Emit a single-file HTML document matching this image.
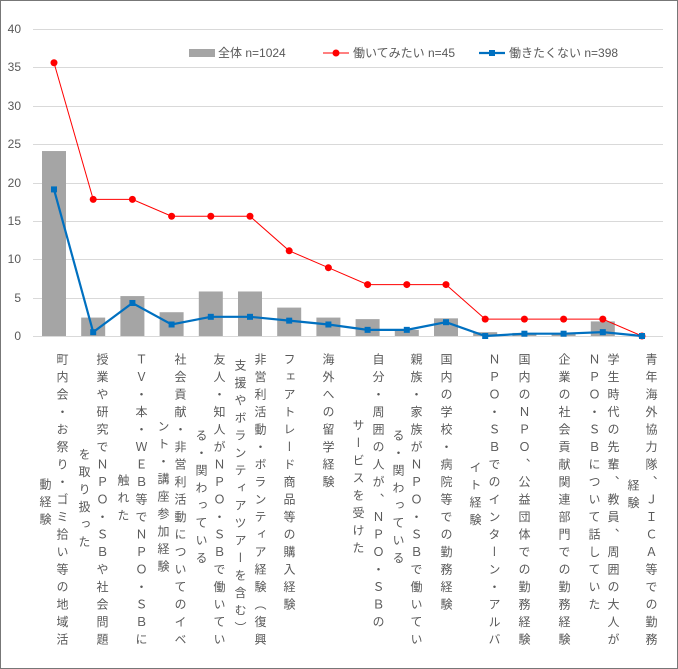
<!DOCTYPE html>
<html><head><meta charset="utf-8"><style>
body{margin:0;background:#fff}
#c{position:relative;width:676px;height:667px;border:1px solid #777;overflow:hidden;font-family:"Liberation Sans","Noto Sans CJK JP",sans-serif;color:#595959}
.v{position:absolute;writing-mode:vertical-rl;font-size:12px;letter-spacing:5.5px;width:16px;line-height:16px;white-space:nowrap;color:#595959;font-family:"Noto Sans CJK JP",sans-serif}
svg{position:absolute;left:0;top:0}
</style></head><body><div id="c">
<svg width="678" height="669" font-family="Liberation Sans, Noto Sans CJK JP, sans-serif" font-size="12" fill="#595959">
<g stroke="#d9d9d9" stroke-width="1">
<line x1="32" y1="28.5" x2="662" y2="28.5"/><line x1="32" y1="66.5" x2="662" y2="66.5"/><line x1="32" y1="105.5" x2="662" y2="105.5"/><line x1="32" y1="143.5" x2="662" y2="143.5"/><line x1="32" y1="182.5" x2="662" y2="182.5"/><line x1="32" y1="220.5" x2="662" y2="220.5"/><line x1="32" y1="258.5" x2="662" y2="258.5"/><line x1="32" y1="297.5" x2="662" y2="297.5"/><line x1="32" y1="335.5" x2="662" y2="335.5"/>
</g>
<g text-anchor="end"><text x="20" y="32">40</text><text x="20" y="70">35</text><text x="20" y="109">30</text><text x="20" y="147">25</text><text x="20" y="186">20</text><text x="20" y="224">15</text><text x="20" y="262">10</text><text x="20" y="301">5</text><text x="20" y="339">0</text></g>
<g fill="#a5a5a5" id="bars"></g>
<polyline id="rl" fill="none" stroke="#ff0000" stroke-width="1"/>
<g id="rd" fill="#ff0000"></g>
<polyline id="bl" fill="none" stroke="#0070c0" stroke-width="2.2"/>
<g id="bd" fill="#0070c0"></g>
<rect x="188" y="48" width="26" height="8" fill="#a5a5a5"/><text x="217" y="56">全体 n=1024</text>
<line x1="322" y1="52" x2="348" y2="52" stroke="#f00"/><circle cx="335" cy="52" r="3.5" fill="#f00"/><text x="352" y="56">働いてみたい n=45</text>
<line x1="478" y1="52" x2="504" y2="52" stroke="#0070c0" stroke-width="2.2"/><rect x="488" y="49" width="6" height="6" fill="#0070c0"/><text x="508" y="56">働きたくない n=398</text>
</svg>
<div class="v" style="left:53px;top:352px">町内会・お祭り・ゴミ拾い等の地域活</div>
<div class="v" style="left:36px;top:477px">動経験</div>
<div class="v" style="left:93px;top:352px">授業や研究でＮＰＯ・ＳＢや社会問題</div>
<div class="v" style="left:75px;top:447px">を取り扱った</div>
<div class="v" style="left:132px;top:352px">ＴＶ・本・ＷＥＢ等でＮＰＯ・ＳＢに</div>
<div class="v" style="left:114px;top:473px">触れた</div>
<div class="v" style="left:171px;top:352px">社会貢献・非営利活動についてのイベ</div>
<div class="v" style="left:154px;top:419px">ント・講座参加経験</div>
<div class="v" style="left:210px;top:352px">友人・知人がＮＰＯ・ＳＢで働いてい</div>
<div class="v" style="left:192px;top:428px">る・関わっている</div>
<div class="v" style="left:251px;top:352px">非営利活動・ボランティア経験（復興</div>
<div class="v" style="left:231px;top:358px">支援やボランティアツアーを含む）</div>
<div class="v" style="left:280px;top:352px">フェアトレード商品等の購入経験</div>
<div class="v" style="left:319px;top:352px">海外への留学経験</div>
<div class="v" style="left:369px;top:352px">自分・周囲の人が、ＮＰＯ・ＳＢの</div>
<div class="v" style="left:349px;top:418px">サービスを受けた</div>
<div class="v" style="left:407px;top:352px">親族・家族がＮＰＯ・ＳＢで働いてい</div>
<div class="v" style="left:389px;top:428px">る・関わっている</div>
<div class="v" style="left:437px;top:352px">国内の学校・病院等での勤務経験</div>
<div class="v" style="left:485px;top:352px">ＮＰＯ・ＳＢでのインターン・アルバ</div>
<div class="v" style="left:466px;top:460px">イト経験</div>
<div class="v" style="left:515px;top:352px">国内のＮＰＯ、公益団体での勤務経験</div>
<div class="v" style="left:555px;top:352px">企業の社会貢献関連部門での勤務経験</div>
<div class="v" style="left:604px;top:352px">学生時代の先輩、教員、周囲の大人が</div>
<div class="v" style="left:585px;top:352px">ＮＰＯ・ＳＢについて話していた</div>
<div class="v" style="left:642px;top:352px">青年海外協力隊、ＪＩＣＡ等での勤務</div>
<div class="v" style="left:624px;top:478px">経験</div>
</div>
<script>
var bar=[24.1,2.4,5.2,3.1,5.8,5.8,3.7,2.4,2.2,0.8,2.3,0.5,0.4,0.3,1.9,0];
var red=[35.6,17.8,17.8,15.6,15.6,15.6,11.1,8.9,6.7,6.7,6.7,2.2,2.2,2.2,2.2,0];
var blu=[19.1,0.5,4.3,1.5,2.5,2.5,2.0,1.5,0.8,0.8,1.8,0,0.3,0.3,0.5,0];
function X(i){return 53+i*39.2}function Y(v){return 335-v*7.675}
var ns="http://www.w3.org/2000/svg",b=document.getElementById('bars'),rd=document.getElementById('rd'),bd=document.getElementById('bd');
var rp=[],bp=[];
for(var i=0;i<16;i++){var r=document.createElementNS(ns,'rect');r.setAttribute('x',X(i)-12);r.setAttribute('width',24);r.setAttribute('y',Y(bar[i]));r.setAttribute('height',bar[i]*7.675);b.appendChild(r);
rp.push(X(i)+','+Y(red[i]));bp.push(X(i)+','+Y(blu[i]));
var c=document.createElementNS(ns,'circle');c.setAttribute('cx',X(i));c.setAttribute('cy',Y(red[i]));c.setAttribute('r',3.5);rd.appendChild(c);
var s=document.createElementNS(ns,'rect');s.setAttribute('x',X(i)-3);s.setAttribute('y',Y(blu[i])-3);s.setAttribute('width',6);s.setAttribute('height',6);bd.appendChild(s);}
document.getElementById('rl').setAttribute('points',rp.join(' '));document.getElementById('bl').setAttribute('points',bp.join(' '));
</script>
</body></html>
